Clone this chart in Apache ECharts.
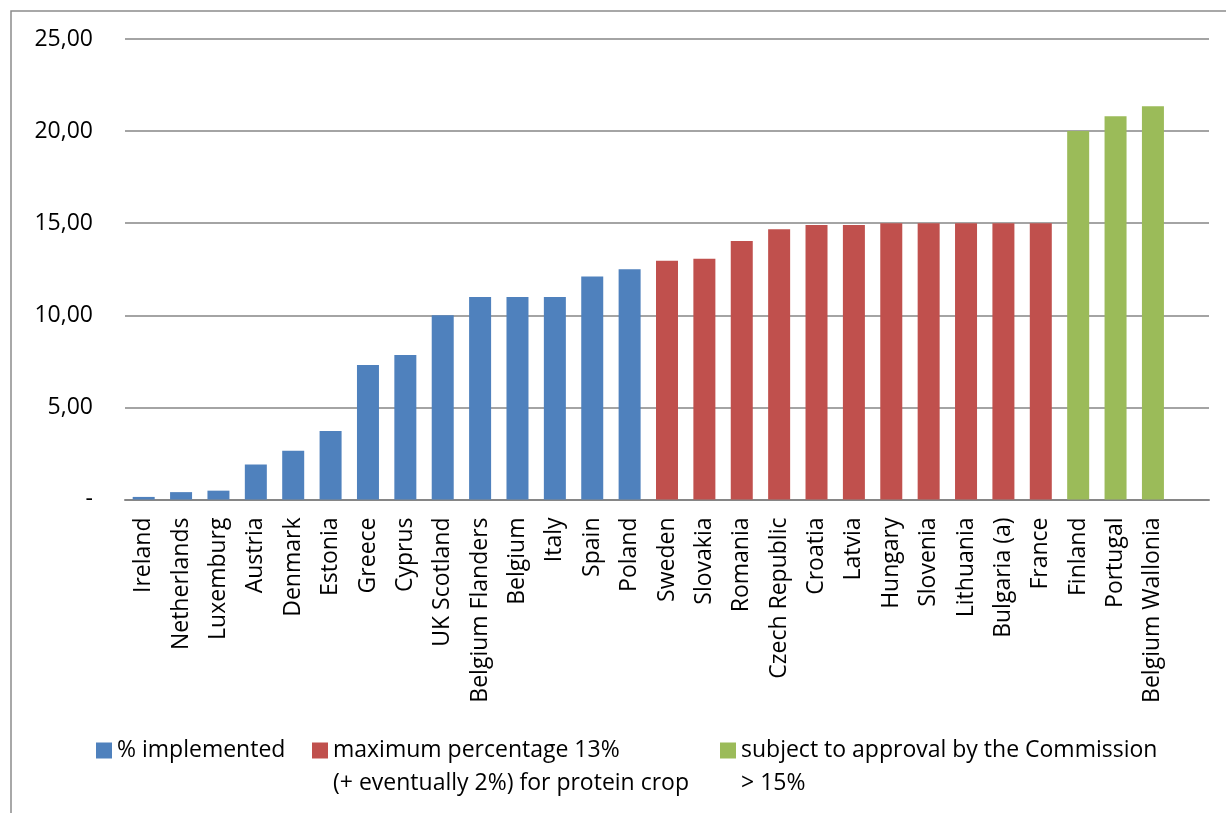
<!DOCTYPE html>
<html>
<head>
<meta charset="utf-8">
<script src="https://cdn.jsdelivr.net/npm/echarts@6/dist/echarts.min.js"></script>
<style>
  html, body { margin: 0; padding: 0; background: #fff; }
  #chart { width: 1226px; height: 813px; }
</style>
</head>
<body>
<div id="chart"></div>
<script>
// categories (the last one is an empty slot, as in the original plot area)
var countries = ['Ireland', 'Netherlands', 'Luxemburg', 'Austria', 'Denmark', 'Estonia', 'Greece', 'Cyprus',
  'UK Scotland', 'Belgium Flanders', 'Belgium', 'Italy', 'Spain', 'Poland',
  'Sweden', 'Slovakia', 'Romania', 'Czech Republic', 'Croatia', 'Latvia', 'Hungary', 'Slovenia',
  'Lithuania', 'Bulgaria (a)', 'France',
  'Finland', 'Portugal', 'Belgium Wallonia', '']
var values = [0.14, 0.4, 0.48, 1.9, 2.64, 3.72, 7.3, 7.85,
  10.0, 11.0, 11.0, 11.0, 12.1, 12.5,
  12.96, 13.07, 14.03, 14.67, 14.9, 14.9, 15.0, 15.0,
  15.0, 15.0, 15.0,
  20.0, 20.8, 21.35, null]
// 0 = implemented, 1 = maximum 13%, 2 = subject to approval
var groups = [0, 0, 0, 0, 0, 0, 0, 0, 0, 0, 0, 0, 0, 0,
  1, 1, 1, 1, 1, 1, 1, 1, 1, 1, 1,
  2, 2, 2, -1]
var groupNames = ['% implemented', 'maximum percentage 13%', 'subject to approval by the Commission']
var groupSecondLines = ['', '(+ eventually 2%) for protein crop', '> 15%']
var colors = ['#4F81BD', '#C0504D', '#9BBB59']
var yTicks = [0, 5, 10, 15, 20, 25]

var font = 'Open Sans'
var fontSize = 23
var chart = echarts.init(document.getElementById('chart'))

var series = groupNames.map(function(name, g) {
  return {
    name: name,
    type: 'bar',
    stack: 'all',
    barWidth: 22,
    itemStyle: { color: colors[g] },
    data: values.map(function(v, i) {
      return groups[i] === g ? v : '-'
    })
  }
})

var legendLeft = [96, 312, 720]
var legends = groupNames.map(function(name, g) {
  return {
    data: [name],
    left: legendLeft[g],
    top: 739,
    padding: 0,
    itemWidth: 16,
    itemHeight: 16,
    icon: 'rect',
    selectedMode: false,
    textStyle: { fontFamily: font, fontSize: fontSize, color: '#000' }
  }
})

var graphics = [{
  type: 'rect',
  shape: { x: 11, y: 11, width: 1300, height: 1000 },
  style: { fill: 'none', stroke: '#8c8c8c', lineWidth: 1.5 },
  silent: true
}]
groupSecondLines.forEach(function(txt, g) {
  if (!txt) return
  graphics.push({
    type: 'text',
    left: legendLeft[g] + 21,
    top: 772,
    style: { text: txt, font: fontSize + 'px "' + font + '"', fill: '#000' }
  })
})

chart.setOption({
  animation: false,
  grid: { left: 125, right: 17, top: 39, bottom: 313.5, containLabel: false },
  legend: legends,
  graphic: graphics,
  xAxis: {
    type: 'category',
    data: countries,
    axisTick: { show: false },
    axisLine: { lineStyle: { color: '#868686', width: 2 } },
    axisLabel: {
      interval: 0,
      rotate: 90,
      margin: 18,
      fontFamily: font,
      fontSize: fontSize,
      color: '#000'
    }
  },
  yAxis: {
    type: 'value',
    min: yTicks[0],
    max: yTicks[yTicks.length - 1],
    interval: 5,
    axisLine: { show: false },
    axisTick: { show: false },
    splitLine: { lineStyle: { color: '#868686', width: 1.5 } },
    axisLabel: {
      margin: 32,
      fontFamily: font,
      fontSize: fontSize,
      color: '#000',
      formatter: function(v) {
        return v === 0 ? '-' : v.toFixed(2).replace('.', ',')
      }
    }
  },
  series: series
})
</script>
</body>
</html>
